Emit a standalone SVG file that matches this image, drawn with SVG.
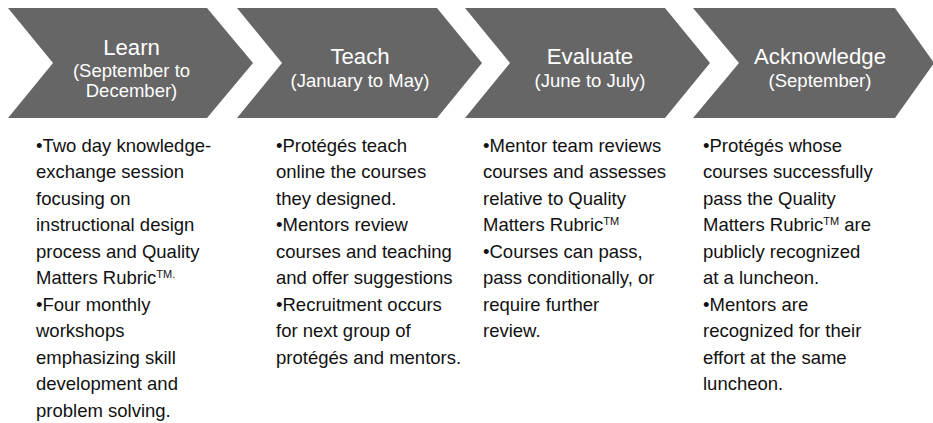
<svg xmlns="http://www.w3.org/2000/svg" width="933" height="423" viewBox="0 0 933 423">
<style>
.chev{fill:#666666}
.title{font-family:"Liberation Sans",Arial,sans-serif;font-size:22.2px;fill:#ffffff;text-anchor:middle}
.sub{font-family:"Liberation Sans",Arial,sans-serif;font-size:18.5px;fill:#ffffff;text-anchor:middle}
.body{font-family:"Liberation Sans",Arial,sans-serif;font-size:18.5px;fill:#111111}
.sup{font-size:11px}
</style>
<rect width="933" height="423" fill="#ffffff"/>
<g id="connectors"></g>
<g id="learn">
<polygon class="chev" points="8,8 207,8 253,63 207,118 8,118 53,63"/>
<text class="title" x="131.5" y="55">Learn</text>
<text class="sub" x="131.5" y="76.5">(September to</text>
<text class="sub" x="131.5" y="97">December)</text>
</g>
<g id="teach">
<polygon class="chev" points="237,8 437,8 482,63 437,118 237,118 282,63"/>
<text class="title" x="360" y="64">Teach</text>
<text class="sub" x="360" y="86.5">(January to May)</text>
</g>
<g id="evaluate">
<polygon class="chev" points="465,8 665,8 710,63 665,118 465,118 510,63"/>
<text class="title" x="590" y="64">Evaluate</text>
<text class="sub" x="590" y="86.5">(June to July)</text>
</g>
<g id="acknowledge">
<polygon class="chev" points="693,8 895,8 934,63 895,118 693,118 739,63"/>
<text class="title" x="820" y="64">Acknowledge</text>
<text class="sub" x="820" y="86.5">(September)</text>
</g>
<g id="learn-text">
<text class="body" x="36" y="151.5">•Two day knowledge-</text>
<text class="body" x="36" y="178">exchange session</text>
<text class="body" x="36" y="204.5">focusing on</text>
<text class="body" x="36" y="231">instructional design</text>
<text class="body" x="36" y="257.5">process and Quality</text>
<text class="body" x="36" y="284">Matters Rubric<tspan class="sup" dy="-6">TM.</tspan></text>
<text class="body" x="36" y="310.5">•Four monthly</text>
<text class="body" x="36" y="337">workshops</text>
<text class="body" x="36" y="363.5">emphasizing skill</text>
<text class="body" x="36" y="390">development and</text>
<text class="body" x="36" y="416.5">problem solving.</text>
</g>
<g id="teach-text">
<text class="body" x="276" y="151.5">•Protégés teach</text>
<text class="body" x="276" y="178">online the courses</text>
<text class="body" x="276" y="204.5">they designed.</text>
<text class="body" x="276" y="231">•Mentors review</text>
<text class="body" x="276" y="257.5">courses and teaching</text>
<text class="body" x="276" y="284">and offer suggestions</text>
<text class="body" x="276" y="310.5">•Recruitment occurs</text>
<text class="body" x="276" y="337">for next group of</text>
<text class="body" x="276" y="363.5">protégés and mentors.</text>
</g>
<g id="evaluate-text">
<text class="body" x="483" y="151.5">•Mentor team reviews</text>
<text class="body" x="483" y="178">courses and assesses</text>
<text class="body" x="483" y="204.5">relative to Quality</text>
<text class="body" x="483" y="231">Matters Rubric<tspan class="sup" dy="-6">TM</tspan></text>
<text class="body" x="483" y="257.5">•Courses can pass,</text>
<text class="body" x="483" y="284">pass conditionally, or</text>
<text class="body" x="483" y="310.5">require further</text>
<text class="body" x="483" y="337">review.</text>
</g>
<g id="acknowledge-text">
<text class="body" x="703" y="151.5">•Protégés whose</text>
<text class="body" x="703" y="178">courses successfully</text>
<text class="body" x="703" y="204.5">pass the Quality</text>
<text class="body" x="703" y="231">Matters Rubric<tspan class="sup" dy="-6">TM</tspan><tspan dy="6"> are</tspan></text>
<text class="body" x="703" y="257.5">publicly recognized</text>
<text class="body" x="703" y="284">at a luncheon.</text>
<text class="body" x="703" y="310.5">•Mentors are</text>
<text class="body" x="703" y="337">recognized for their</text>
<text class="body" x="703" y="363.5">effort at the same</text>
<text class="body" x="703" y="390">luncheon.</text>
</g>
</svg>
